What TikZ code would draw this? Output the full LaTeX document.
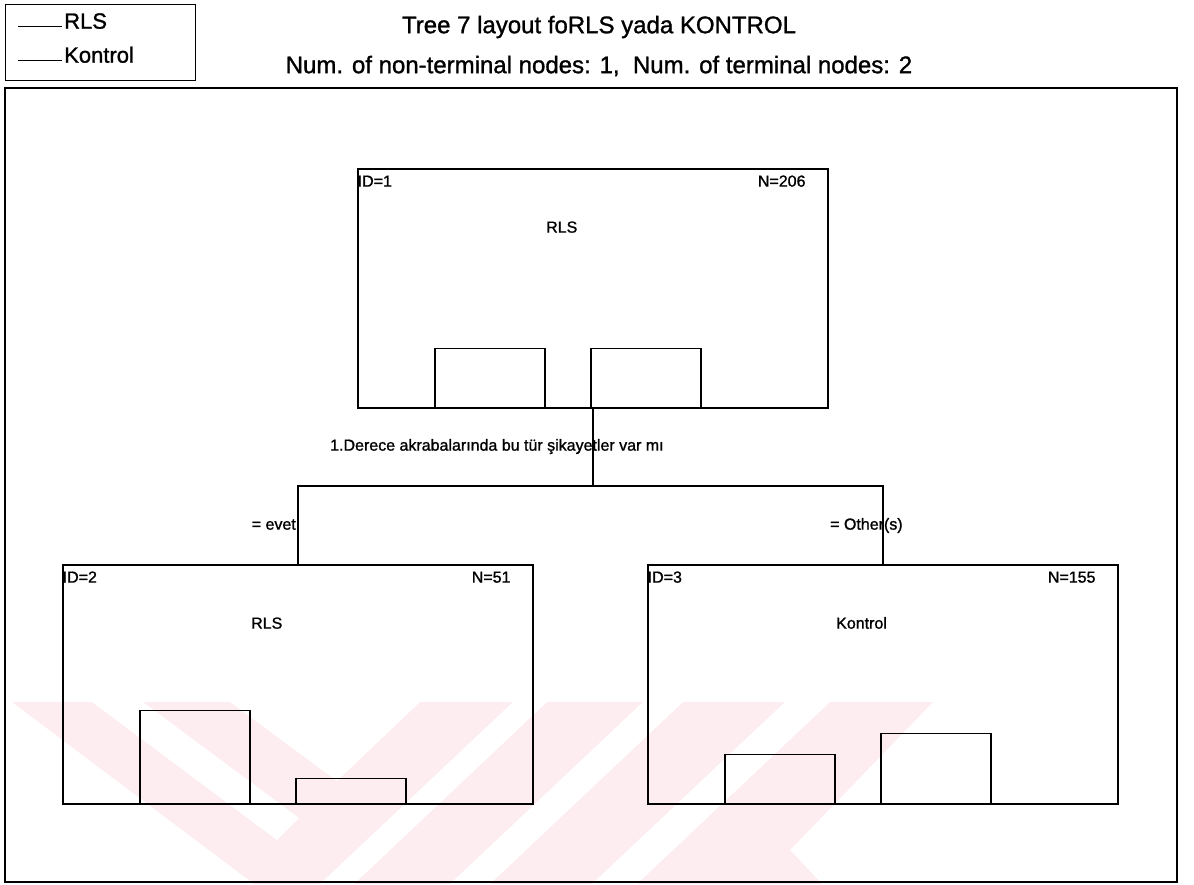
\documentclass[tikz,border=0pt]{standalone}
\usepackage{fontspec}
\setmainfont{Liberation Sans}[FakeBold=1.2]
\definecolor{wmpink}{RGB}{253,236,240}
\begin{document}
\begin{tikzpicture}[x=1pt,y=-1pt,
  box/.style={draw, line width=1.7pt, minimum width=470pt, minimum height=239pt, inner sep=0pt, anchor=north west},
  bar/.style={draw, line width=1.4pt},
  small/.style={font=\fontsize{16}{19}\selectfont, inner sep=0pt},
  ttl/.style={font=\fontsize{24}{28}\selectfont, inner sep=0pt},
  leg/.style={font=\fontsize{22}{26}\selectfont, inner sep=0pt},
  conn/.style={line width=1.7pt}]
\useasboundingbox (0,0) rectangle (1194,884);
% watermark
\fill[wmpink] (12,702) -- (933,702) -- (790,850) -- (822,884) -- (254,884) -- cycle;
\fill[white] (92,702) -- (143,702) -- (299,818) -- (277,840) -- cycle;
\fill[white] (230,702) -- (420,702) -- (337,781) -- cycle;
\fill[white] (513,702) -- (547,702) -- (354,884) -- (320,884) -- cycle;
\fill[white] (643,702) -- (683,702) -- (490,884) -- (450,884) -- cycle;
\fill[white] (785,702) -- (830,702) -- (637,884) -- (592,884) -- cycle;
% outer frame
\draw[line width=1.7pt] (5,88) rectangle (1177,882);
% legend
\node[draw, line width=1.2pt, minimum width=190pt, minimum height=76pt, inner sep=0pt, anchor=north west] (legend) at (5,4) {};
\draw[line width=1pt] (18,26) -- (62,26);
\node[leg, anchor=mid west] (lrls) at (64,26) {RLS};
\draw[line width=1pt] (18,60) -- (62,60);
\node[leg, anchor=mid west] (lkon) at (64,60) {Kontrol};
% titles
\node[ttl] (t1) at (599,27) {Tree 7 layout foRLS yada KONTROL};
\node[ttl] (t2) at (599,66) {Num. of non-terminal nodes: 1,\ \ Num. of terminal nodes: 2};
% tree nodes
\node[box] (n1) at (357,168) {};
\node[box] (n2) at (62,564) {};
\node[box] (n3) at (647,564) {};
\foreach \n/\i/\N/\c in {n1/1/206/RLS, n2/2/51/RLS, n3/3/155/Kontrol}{
  \node[small, anchor=mid west] (\n id) at ([xshift=0.5pt,yshift=-16pt]\n.north west) {ID=\i};
  \node[small, anchor=mid east] (\n N) at ([xshift=-23pt,yshift=-16pt]\n.north east) {N=\N};
  \node[small, anchor=mid west] (\n c) at ([xshift=189pt,yshift=-62pt]\n.north west) {\c};
}
% bars
\draw[bar] ([xshift=78pt]n1.south west) rectangle ++(110,-60);
\draw[bar] ([xshift=234pt]n1.south west) rectangle ++(110,-60);
\draw[bar] ([xshift=78pt]n2.south west) rectangle ++(110,-94);
\draw[bar] ([xshift=234pt]n2.south west) rectangle ++(110,-26);
\draw[bar] ([xshift=78pt]n3.south west) rectangle ++(110,-50);
\draw[bar] ([xshift=234pt]n3.south west) rectangle ++(110,-71);
% connectors
\coordinate (sy) at (0,486);
\draw[conn] (n1.south) -- (n1.south |- sy);
\draw[conn] (n2.north) -- (n2.north |- sy) -- (n3.north |- sy) -- (n3.north);
% labels
\node[small, anchor=mid west] (q) at (330,448) {1.Derece akrabalarında bu tür şikayetler var mı};
\node[small, anchor=mid east] (e1) at (296,527) {= evet};
\node[small, anchor=mid west] (e2) at (830,527) {= Other(s)};
\end{tikzpicture}
\end{document}
